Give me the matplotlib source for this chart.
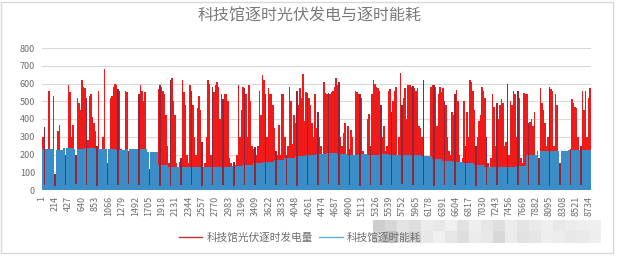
import numpy as np
import matplotlib
matplotlib.use("Agg")
from matplotlib import pyplot as plt
from matplotlib.lines import Line2D
from matplotlib.patches import Rectangle

plt.rcParams['font.family'] = ['Noto Sans CJK SC', 'DejaVu Sans']

# daily peak of hourly PV output, kWh (365 days, 7 per row)
pv_peak = [
    300, 355, 120, 150, 555, 100, 140,
    530, 90, 180, 330, 365, 110, 60,
    150, 200, 120, 590, 550, 300, 365,
    150, 200, 520, 490, 450, 620, 580,
    575, 520, 280, 530, 540, 410, 380,
    330, 250, 555, 200, 160, 300, 680,
    200, 150, 180, 520, 530, 580, 600,
    590, 570, 560, 230, 190, 150, 560,
    550, 220, 130, 150, 100, 160, 200,
    180, 540, 590, 560, 500, 550, 200,
    150, 120, 100, 60, 130, 160, 200,
    570, 590, 580, 560, 540, 420, 250,
    150, 620, 630, 500, 420, 150, 130,
    160, 180, 620, 550, 480, 200, 150,
    590, 560, 480, 300, 200, 460, 530,
    450, 270, 120, 150, 300, 620, 600,
    200, 580, 550, 590, 610, 580, 400,
    540, 510, 540, 540, 500, 180, 150,
    130, 160, 140, 200, 590, 300, 450,
    580, 575, 540, 300, 590, 500, 250,
    230, 240, 200, 250, 555, 420, 650,
    620, 540, 300, 575, 540, 540, 480,
    350, 220, 200, 365, 200, 540, 540,
    300, 200, 250, 580, 500, 260, 420,
    380, 555, 480, 575, 520, 655, 390,
    550, 545, 520, 480, 380, 300, 540,
    350, 440, 300, 250, 200, 610, 545,
    540, 545, 540, 550, 560, 580, 630,
    590, 610, 300, 250, 320, 380, 200,
    360, 230, 340, 300, 200, 560, 550,
    540, 540, 520, 220, 180, 200, 400,
    430, 250, 540, 620, 600, 580, 575,
    560, 480, 300, 360, 220, 250, 560,
    570, 440, 500, 560, 580, 200, 300,
    660, 480, 520, 575, 400, 590, 590,
    580, 585, 575, 560, 575, 360, 350,
    300, 620, 150, 120, 100, 150, 580,
    590, 590, 580, 360, 540, 580, 550,
    575, 500, 480, 300, 220, 200, 440,
    420, 540, 565, 500, 200, 150, 180,
    500, 250, 440, 300, 620, 610, 555,
    450, 250, 300, 390, 420, 580, 560,
    520, 300, 150, 120, 180, 540, 470,
    250, 490, 400, 480, 510, 490, 250,
    270, 595, 200, 500, 480, 560, 540,
    300, 560, 520, 180, 150, 545, 540,
    540, 380, 385, 400, 360, 440, 200,
    150, 180, 575, 490, 450, 380, 250,
    300, 580, 570, 555, 250, 540, 480,
    200, 150, 180, 200, 160, 140, 200,
    180, 230, 515, 490, 470, 460, 300,
    200, 250, 560, 450, 560, 300, 520,
    575,
]

# daytime consumption level per week, kWh (53 weeks, last one is 1 day)
cons_week = [
    230, 225, 235, 230, 235, 230, 230, 225, 230, 230,
    215, 140, 130, 130, 130, 130, 130, 130, 135, 140,
    150, 160, 170, 180, 190, 195, 205, 210, 205, 200,
    205, 200, 205, 200, 195, 195, 190, 175, 165, 160,
    150, 140, 130, 130, 130, 135, 200, 220, 220, 220,
    225, 225, 225,
]
# consumption on the weekly closing day, kWh
cons_closed = [
    30, 25, 30, 35, 30, 25, 30, 30, 35, 30,
    30, 25, 25, 30, 30, 25, 30, 30, 25, 30,
    30, 35, 30, 30, 25, 30, 30, 35, 30, 30,
    25, 30, 30, 30, 35, 30, 30, 25, 30, 30,
    30, 25, 30, 30, 35, 30, 30, 30, 25, 30,
    30, 30,
]
closed_day = 1  # closing day index inside each week

tick_labels = [1, 214, 427, 640, 853, 1066, 1279, 1492, 1705, 1918, 2131,
               2344, 2557, 2770, 2983, 3196, 3409, 3622, 3835, 4048, 4261,
               4474, 4687, 4900, 5113, 5326, 5539, 5752, 5965, 6178, 6391,
               6604, 6817, 7030, 7243, 7456, 7669, 7882, 8095, 8308, 8521,
               8734]

# mosaic that hides the end of the legend in the picture
mosaic_top = [205, 215, 228, 222, 236, 232, 240, 226, 238, 230, 222, 236, 228, 234, 240, 232, 236, 238, 240]
mosaic_bot = [214, 190, 226, 214, 232, 240, 230, 222, 236, 232, 216, 236, 226, 230, 238, 236, 232, 234, 238]

n_days = len(pv_peak)
day_start = np.arange(n_days) * 24
cons = np.repeat(cons_week, 7)[:n_days].astype(float)
cons[closed_day::7] = cons_closed[:len(cons[closed_day::7])]

red = "#ef1b1b"
dark_red = "#93263a"
blue = "#3b8dc7"
gray = "#6e6e6e"

pv_colors = [red] * n_days
for d in range(closed_day, n_days, 7):
    pv_colors[d] = dark_red

fig = plt.figure(figsize=(6.2, 2.56), dpi=100)
ax = fig.add_axes([42 / 620, 1 - 190 / 256, 549 / 620, 142 / 256])

ax.bar(day_start, pv_peak, width=24, align="edge", color=pv_colors, linewidth=0, zorder=2)
ax.bar(day_start, cons, width=24, align="edge", color=blue, linewidth=0, zorder=3)

ax.set_xlim(0, 8760)
ax.set_ylim(0, 800)
ax.set_yticks(range(0, 801, 100))
ax.set_xticks([t - 0.5 for t in tick_labels])
ax.set_xticklabels([str(t) for t in tick_labels], rotation=90)
ax.tick_params(axis="both", length=0, labelsize=6.5, labelcolor=gray)
ax.tick_params(axis="x", pad=4)
ax.tick_params(axis="y", pad=5)
ax.grid(axis="y", color="#d9d9d9", linewidth=0.8, zorder=0)
ax.set_axisbelow(True)
for s in ax.spines.values():
    s.set_visible(False)

fig.text(310 / 620, 1 - 16 / 256, "科技馆逐时光伏发电与逐时能耗", ha="center", va="center",
         fontsize=11.5, color="#7a7a7a", fontweight="light")

handles = [Line2D([], [], color="#c8322e", lw=1),
           Line2D([], [], color="#5ab4d6", lw=1)]
fig.legend(handles, ["科技馆光伏逐时发电量", "科技馆逐时能耗"], loc="center",
           bbox_to_anchor=(300 / 620, 1 - 238 / 256), ncol=2, frameon=False,
           fontsize=7.7, labelcolor=gray, handlelength=2.2, columnspacing=0.6,
           handletextpad=0.4)

# outer chart frame
fig.add_artist(Rectangle((1 / 620, 1 - 253 / 256), 612 / 620, 251 / 256,
                         transform=fig.transFigure, fill=False,
                         edgecolor="#d9d9d9", linewidth=1))

# mosaic blocks
tile_w = 12 / 620
for i, (gt, gb) in enumerate(zip(mosaic_top, mosaic_bot)):
    x0 = 373 / 620 + i * tile_w
    fig.add_artist(Rectangle((x0, 1 - 231 / 256), tile_w, 11 / 256,
                             transform=fig.transFigure, linewidth=0,
                             facecolor=(gt / 255, gt / 255, gt / 255)))
    fig.add_artist(Rectangle((x0, 1 - 243 / 256), tile_w, 12 / 256,
                             transform=fig.transFigure, linewidth=0,
                             facecolor=(gb / 255, gb / 255, gb / 255)))

fig.savefig("out.png", dpi=100)
